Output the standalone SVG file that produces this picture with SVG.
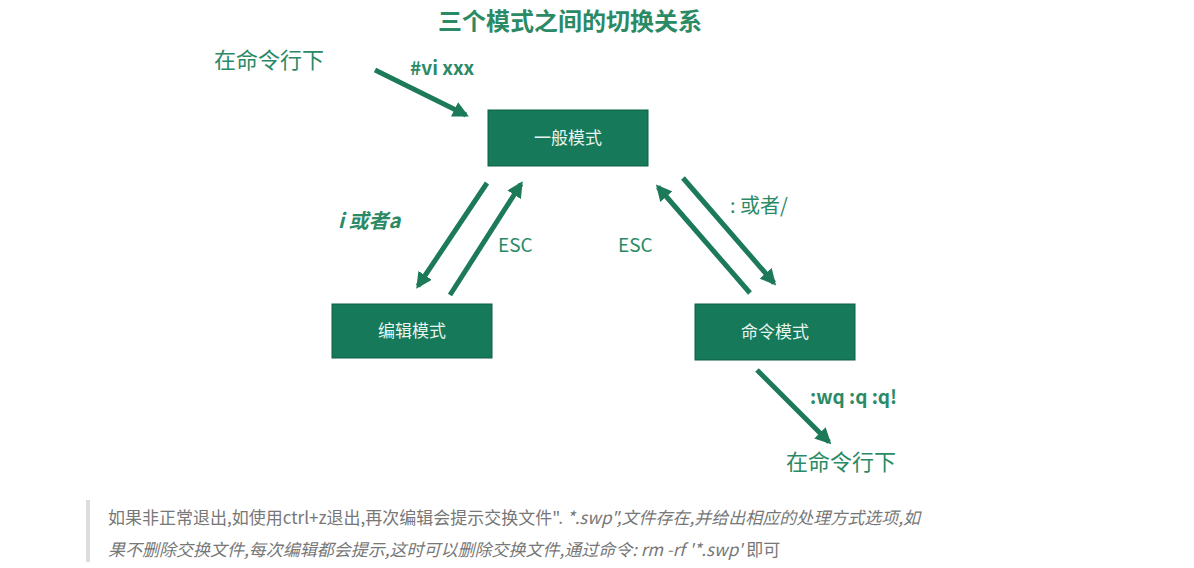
<svg xmlns="http://www.w3.org/2000/svg" width="1194" height="568" viewBox="0 0 1194 568">
<defs>
<marker id="ah" viewBox="0 0 10 10" refX="8" refY="5" markerWidth="3.2" markerHeight="3.2" orient="auto" markerUnits="strokeWidth"><path d="M0,0 L10,5 L0,10 z" fill="#1d7a58"/></marker>
</defs>
<style>
.box{fill:#15795a;stroke:#0f5e44;stroke-width:1}
.bt{fill:#e8f4ee;font-family:"Noto Sans CJK SC",sans-serif;font-size:17px;text-anchor:middle}
.lbl{fill:#2b8a66;font-family:"Noto Sans CJK SC","Liberation Sans",sans-serif}
.ar{stroke:#1d7a58;stroke-width:5;fill:none;marker-end:url(#ah)}
.note{fill:#777;font-family:"Noto Sans CJK SC",sans-serif;font-size:17px}
</style>
<rect width="1194" height="568" fill="#fff"/>
<text x="570" y="30" class="lbl" font-size="24" font-weight="bold" text-anchor="middle">三个模式之间的切换关系</text>
<text x="214" y="68" class="lbl" font-size="22" font-family="Noto Sans CJK SC">在命令行下</text>
<text x="410" y="75" class="lbl" font-size="19" font-weight="bold" font-family="Liberation Sans">#vi xxx</text>
<text x="338" y="228" class="lbl" font-size="20" font-style="italic" font-weight="bold">i 或者a</text>
<text x="498" y="252" class="lbl" font-size="19" font-family="Liberation Sans">ESC</text>
<text x="618" y="252" class="lbl" font-size="19" font-family="Liberation Sans">ESC</text>
<text x="730" y="213" class="lbl" font-size="20">: 或者/</text>
<text x="810" y="404" class="lbl" font-size="19" font-weight="bold" font-family="Liberation Sans">:wq  :q   :q!</text>
<text x="786" y="470" class="lbl" font-size="22">在命令行下</text>
<g id="n1"><rect class="box" x="488" y="110" width="160" height="56"/><text class="bt" x="568" y="144">一般模式</text></g>
<g id="n2"><rect class="box" x="332" y="304" width="160" height="54"/><text class="bt" x="412" y="337">编辑模式</text></g>
<g id="n3"><rect class="box" x="695" y="304" width="160" height="56"/><text class="bt" x="775" y="338">命令模式</text></g>
<g id="edges">
<line class="ar" x1="375" y1="70" x2="466" y2="115"/>
<line class="ar" x1="487" y1="183" x2="418" y2="286"/>
<line class="ar" x1="450" y1="295" x2="521" y2="184"/>
<line class="ar" x1="750" y1="293" x2="658" y2="187"/>
<line class="ar" x1="683" y1="178" x2="774" y2="283"/>
<line class="ar" x1="757" y1="370" x2="829" y2="442"/>
</g>
<rect x="86" y="500" width="4" height="62" fill="#ddd"/>
<text class="note" x="108" y="524">如果非正常退出,如使用ctrl+z退出,再次编辑会提示交换文件". <tspan font-style="italic">*.swp",文件存在,并给出相应的处理方式选项,如</tspan></text>
<text class="note" x="108" y="556" font-style="italic">果不删除交换文件,每次编辑都会提示,这时可以删除交换文件,通过命令: rm -rf '*.swp' <tspan font-style="normal">即可</tspan></text>
</svg>
